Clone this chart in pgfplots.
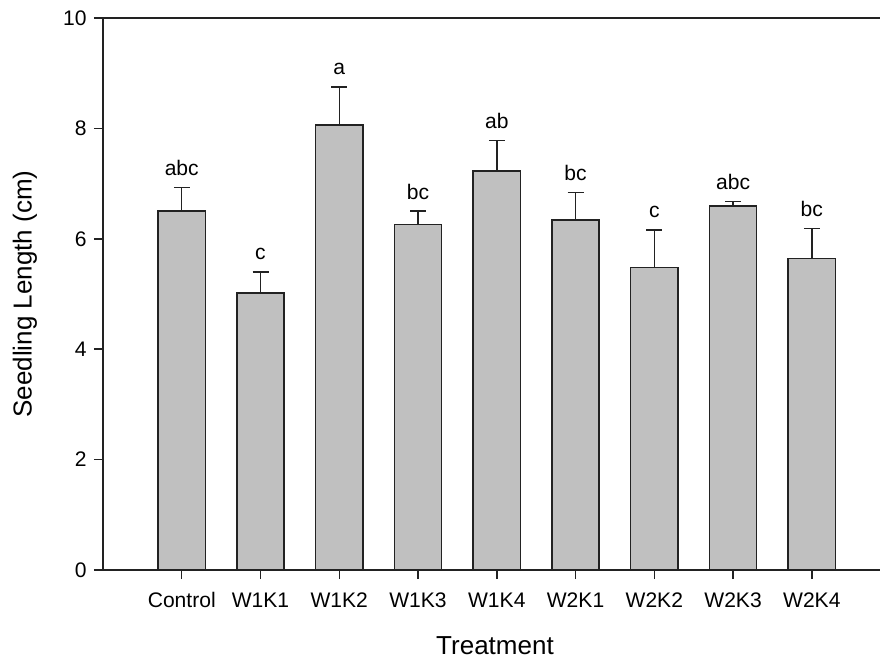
\documentclass[border=0pt]{standalone}
\usepackage{pgfplots}
\usepackage{pgfplotstable}
\pgfplotsset{compat=1.18}
\usepackage{fontspec}
\setmainfont{Liberation Sans}
\definecolor{barfill}{HTML}{C0C0C0}
\definecolor{edge}{HTML}{222222}

\pgfplotstableread{
x  y     e     lab
0  6.50  0.43  abc
1  5.02  0.38  c
2  8.06  0.69  a
3  6.26  0.24  bc
4  7.23  0.55  ab
5  6.34  0.50  bc
6  5.48  0.68  c
7  6.59  0.09  abc
8  5.64  0.55  bc
}\datatable

\begin{document}
\begin{tikzpicture}
\begin{axis}[
  scale only axis,
  width=582.75pt, height=414pt,
  anchor=south west, at={(0pt,0pt)},
  xmin=-1, xmax=8.866,
  ymin=0, ymax=10,
  ytick={0,2,4,6,8,10},
  xtick={0,1,2,3,4,5,6,7,8},
  xticklabels={Control,W1K1,W1K2,W1K3,W1K4,W2K1,W2K2,W2K3,W2K4},
  axis x line=box, axis y line=left,
  every outer x axis line/.append style={-},
  every outer y axis line/.append style={-},
  axis line style={edge, line width=1.1pt},
  xtick pos=bottom, ytick pos=left,
  tick align=outside,
  major tick length=6.75pt,
  tick style={edge, line width=1.1pt},
  /pgf/number format/assume math mode=true,
  ticklabel style={font=\fontsize{15.8}{18}\selectfont},
  xticklabel style={anchor=base, yshift=-21.5pt},
  yticklabel style={xshift=-2pt},
  xlabel={Treatment},
  ylabel={Seedling Length (cm)},
  every axis x label/.style={at={(axis description cs:0.5045,-0.1377)}, anchor=center, font=\fontsize{19.5}{22}\selectfont},
  every axis y label/.style={at={(axis description cs:-0.1004,0.5)}, anchor=center, rotate=90, font=\fontsize{19.5}{22}\selectfont},
  clip=false,
]
\addplot[ybar, bar width=0.6, bar shift=0pt, fill=barfill, draw=edge, line width=1.1pt,
  error bars/.cd, y dir=plus, y explicit,
  error bar style={edge, line width=1.1pt},
  error mark options={rotate=90, mark size=6pt, line width=1.1pt, edge}]
  table[x=x, y=y, y error=e] {\datatable};
\addplot[draw=none, mark=none, nodes near coords, point meta=explicit symbolic,
  every node near coord/.style={anchor=base, yshift=9pt, font=\fontsize{15.8}{18}\selectfont, text=black}]
  table[x=x, y expr=\thisrow{y}+\thisrow{e}, meta=lab] {\datatable};
\end{axis}
\pgfresetboundingbox
\path[use as bounding box] (-77.25pt,-66.75pt) rectangle (582.75pt,427.5pt);
\end{tikzpicture}
\end{document}
